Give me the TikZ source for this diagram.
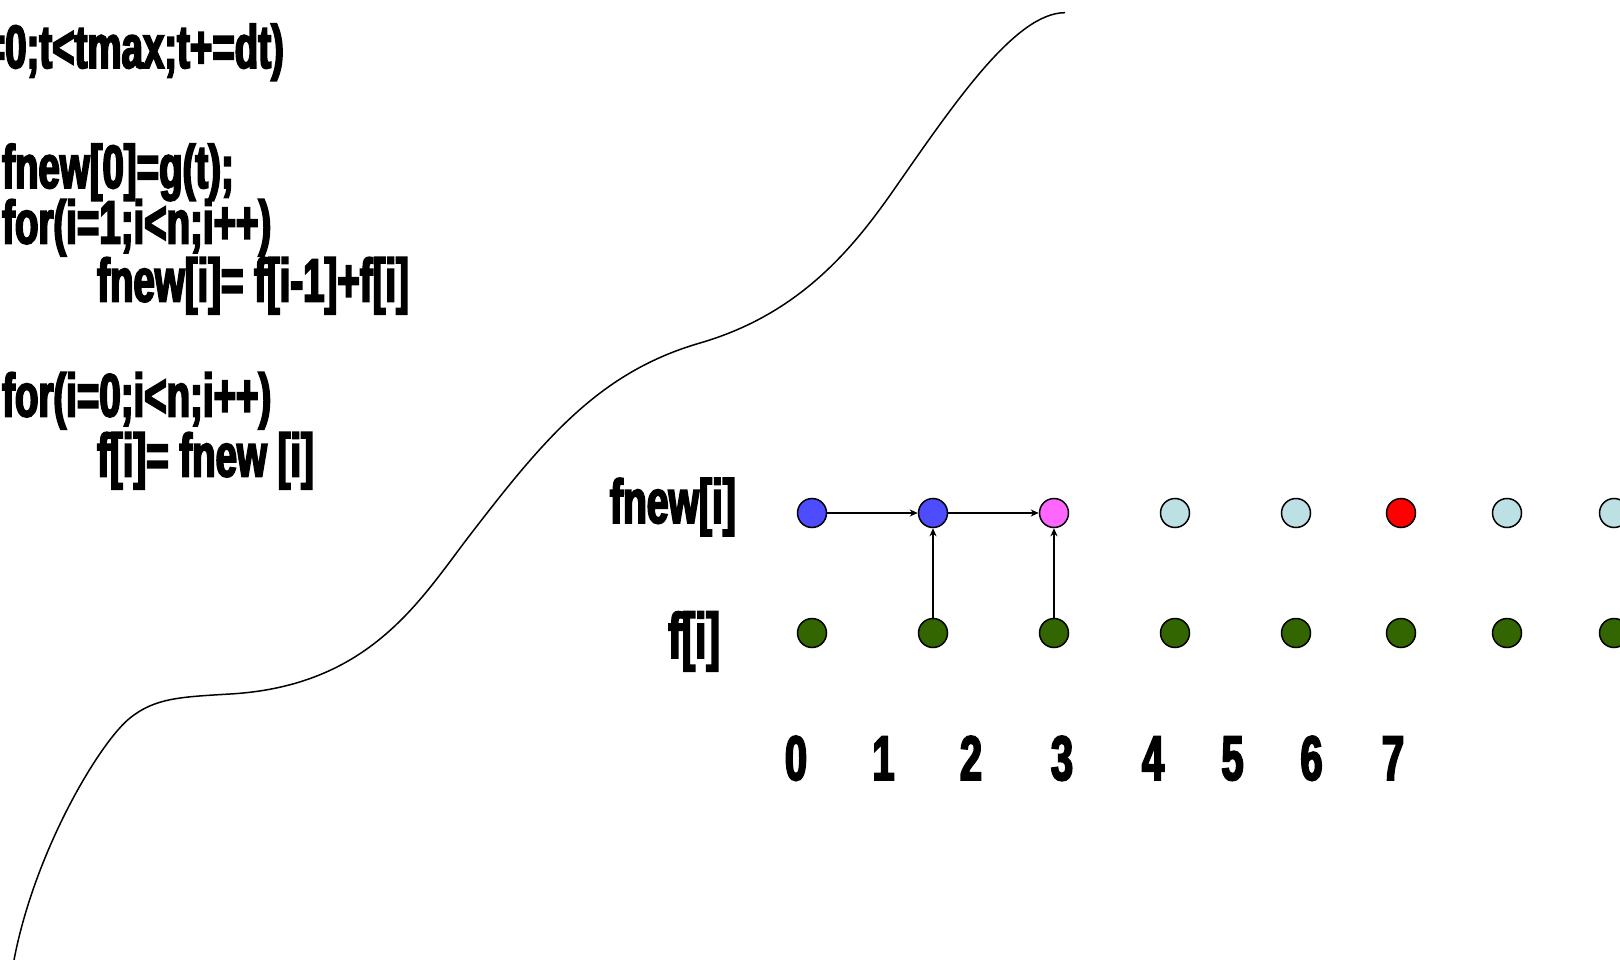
\documentclass[tikz,border=0pt]{standalone}
\usepackage{fontspec}
\usetikzlibrary{arrows.meta}
% heavy condensed face for all the text
\newfontfamily\cond{Liberation Sans}[FakeStretch=0.63,FakeBold=3]
\definecolor{nblue}{HTML}{4D4DFF}
\definecolor{npink}{HTML}{FF66FF}
\definecolor{ncyan}{HTML}{BCE0E3}
\definecolor{nred}{HTML}{FF0000}
\definecolor{fgreen}{HTML}{336600}
\begin{document}
\begin{tikzpicture}[x=1pt,y=-1pt,
  code/.style={anchor=base west,inner sep=0pt,font=\cond\bfseries\fontsize{61}{61}\selectfont},
  rowlab/.style={anchor=base east,inner sep=0pt,font=\cond\bfseries\fontsize{#1}{#1}\selectfont},
  idx/.style={anchor=base,inner sep=0pt,font=\cond\bfseries\fontsize{63}{63}\selectfont},
  cell/.style={circle,draw=black,line width=1.5pt,minimum size=29pt,inner sep=0pt},
  link/.style={line width=1.3pt,-{Stealth[length=8pt,width=7pt,inset=2.5pt]}},
  wave/.style={line width=1.5pt}]
\useasboundingbox (0,0) rectangle (1620,960);
\clip (0,0) rectangle (1620,960);

% time-stepping pseudo code
\node[code] (l1) at (5,68) {\llap{for(t=}0;t<tmax;t+=dt)};
\node[code] (l2) at (2,188) {fnew[0]=g(t);};
\node[code] (l3) at (2,243.5) {for(i=1;i<n;i++)};
\node[code] (l4) at (97,301.5) {fnew[i]= f[i-1]+f[i]};
\node[code] (l5) at (2,416.5) {for(i=0;i<n;i++)};
\node[code] (l6) at (97,476.5) {f[i]= fnew [i]};

% boundary signal g(t)
\draw[wave] (14,960)
  .. controls (35,850) and (100,742) .. (130,718)
  .. controls (155,698) and (180,697) .. (230,694)
  .. controls (370,686) and (420,600) .. (470,535)
  .. controls (545,437.5) and (600,372) .. (700,343)
  .. controls (800,314) and (853,248) .. (893,191)
  .. controls (953,105) and (1015,12.7) .. (1065,12.7);

% row labels
\node[rowlab=62] (fnewlab) at (736,523) {fnew[i]};
\node[rowlab=64] (flab) at (720,658) {f[i]};

% grid cells: new values on top, current values below
\foreach \x/\c [count=\i from 0] in
  {812/nblue,933/nblue,1054/npink,1175/ncyan,1296/ncyan,1401/nred,1507/ncyan,1614/ncyan} {
  \node[cell,fill=\c] (n\i) at (\x,513) {};
  \node[cell,fill=fgreen] (f\i) at (\x,633) {};
}

% indices
\foreach \x [count=\i from 0] in {796,883.5,971,1062,1153,1232.5,1311.5,1393}
  \node[idx] (d\i) at (\x,780) {\i};

% dependencies
\draw[link] (n0) -- (n1);
\draw[link] (n1) -- (n2);
\draw[link] (f1) -- (n1);
\draw[link] (f2) -- (n2);
\end{tikzpicture}
\end{document}
